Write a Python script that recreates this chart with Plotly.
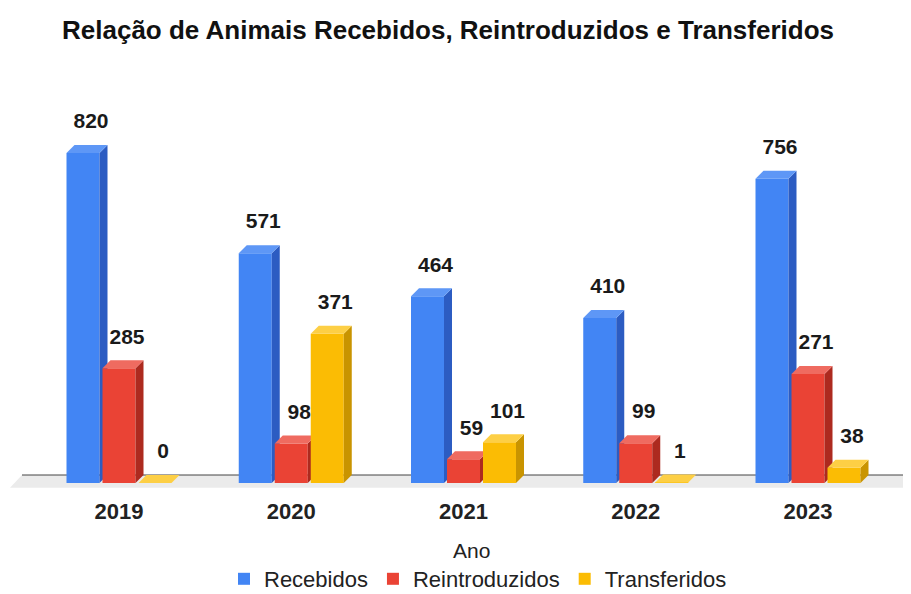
import plotly.graph_objects as go

anos = ["2019", "2020", "2021", "2022", "2023"]
recebidos = [820, 571, 464, 410, 756]
reintroduzidos = [285, 98, 59, 99, 271]
transferidos = [0, 371, 101, 1, 38]

# the page body has an 8px margin, so the figure is a bit smaller than the window
W, H = 903, 586

# geometry of the fake 3D bars (px measured on the target, turned into data units)
PX_X = 172.25          # px per category
PX_Y = 0.4024          # px per animal
BAR_W = 33 / PX_X
PITCH = 36 / PX_X
DX = 8 / PX_X          # depth, horizontal
DY = 8 / PX_Y          # depth, vertical
LABEL_OFF = 22 / PX_Y

series = [
    # name, values, front, side, top, axis suffix
    ("Recebidos", recebidos, "#4285F4", "#2c5cc2", "#5e97f6", ""),
    ("Reintroduzidos", reintroduzidos, "#EA4335", "#ad2a1f", "#ef6b60", "2"),
    ("Transferidos", transferidos, "#FBBC04", "#c99400", "#fdcf45", "3"),
]

fig = go.Figure()

for k, (name, vals, c_front, c_side, c_top, ax) in enumerate(series):
    xa, ya = "x" + ax, "y" + ax
    centers = [i + (k - 1) * PITCH for i in range(len(anos))]

    # front faces
    fig.add_bar(
        x=centers, y=vals, width=BAR_W, name=name,
        marker=dict(color=c_front, line=dict(width=0)),
        xaxis=xa, yaxis=ya, hoverinfo="skip",
    )

    # side and top faces, built from the same values
    sx, sy, tx, ty = [], [], [], []
    for c, v in zip(centers, vals):
        l, r = c - BAR_W / 2, c + BAR_W / 2
        sx += [r, r + DX, r + DX, r, r, None]
        sy += [0, DY, v + DY, v, 0, None]
        tx += [l, l + DX, r + DX, r, l, None]
        ty += [v, v + DY, v + DY, v, v, None]
    fig.add_scatter(x=sx, y=sy, mode="lines", fill="toself", fillcolor=c_side,
                    line=dict(width=0), showlegend=False, hoverinfo="skip",
                    xaxis=xa, yaxis=ya)
    fig.add_scatter(x=tx, y=ty, mode="lines", fill="toself", fillcolor=c_top,
                    line=dict(width=0), showlegend=False, hoverinfo="skip",
                    xaxis=xa, yaxis=ya)

    # value labels
    fig.add_scatter(
        x=[c + DX for c in centers], y=[v + DY + LABEL_OFF for v in vals],
        mode="text", text=[str(v) for v in vals], textposition="middle center",
        textfont=dict(family="Liberation Sans", size=21, color="#1a1a1a", weight="bold"),
        showlegend=False, hoverinfo="skip", xaxis=xa, yaxis=ya,
    )

x_range = [-111 / PX_X, (W - 111) / PX_X]
y_range = [-11 / PX_Y, (475 - 82) / PX_Y]

fig.update_layout(
    width=W, height=H,
    margin=dict(l=0, r=0, t=82, b=100, autoexpand=False),
    plot_bgcolor="white", paper_bgcolor="white",
    font=dict(family="Liberation Sans", color="#222"),
    title=dict(
        text="<b>Relação de Animais Recebidos, Reintroduzidos e Transferidos</b>",
        x=54 / W, xanchor="left", xref="container",
        y=1 - 22 / H, yanchor="middle", yref="container",
        font=dict(size=26, color="#111"),
    ),
    xaxis=dict(range=x_range, tickvals=list(range(len(anos))), ticktext=anos,
               showgrid=False, zeroline=False, showline=False, ticks="",
               ticklabelstandoff=2, automargin=False,
               tickfont=dict(size=22, weight="bold", color="#222")),
    yaxis=dict(range=y_range, visible=False),
    xaxis2=dict(overlaying="x", matches="x", visible=False),
    yaxis2=dict(overlaying="y", matches="y", visible=False),
    xaxis3=dict(overlaying="x", matches="x", visible=False),
    yaxis3=dict(overlaying="y", matches="y", visible=False),
    legend=dict(orientation="h", x=470 / W, xanchor="center",
                yref="container", y=1 - 571 / H, yanchor="middle",
                font=dict(size=22, color="#222")),
    showlegend=True,
    annotations=[dict(text="Ano", xref="paper", yref="paper", x=463 / W,
                      y=(494 - 550) / 404, yanchor="middle", showarrow=False,
                      font=dict(size=21, color="#222"))],
    shapes=[
        # floor
        dict(type="path", xref="paper", yref="y", layer="below",
             path=f"M {2 / W},-12 L {14 / W},{DY} L 1,{DY} L 1,-12 Z",
             fillcolor="#ebebeb", line=dict(width=0)),
        dict(type="line", xref="paper", yref="y", layer="below",
             x0=14 / W, x1=1, y0=DY, y1=DY, line=dict(color="#444", width=1)),
    ],
)

fig.write_html("out.html")
